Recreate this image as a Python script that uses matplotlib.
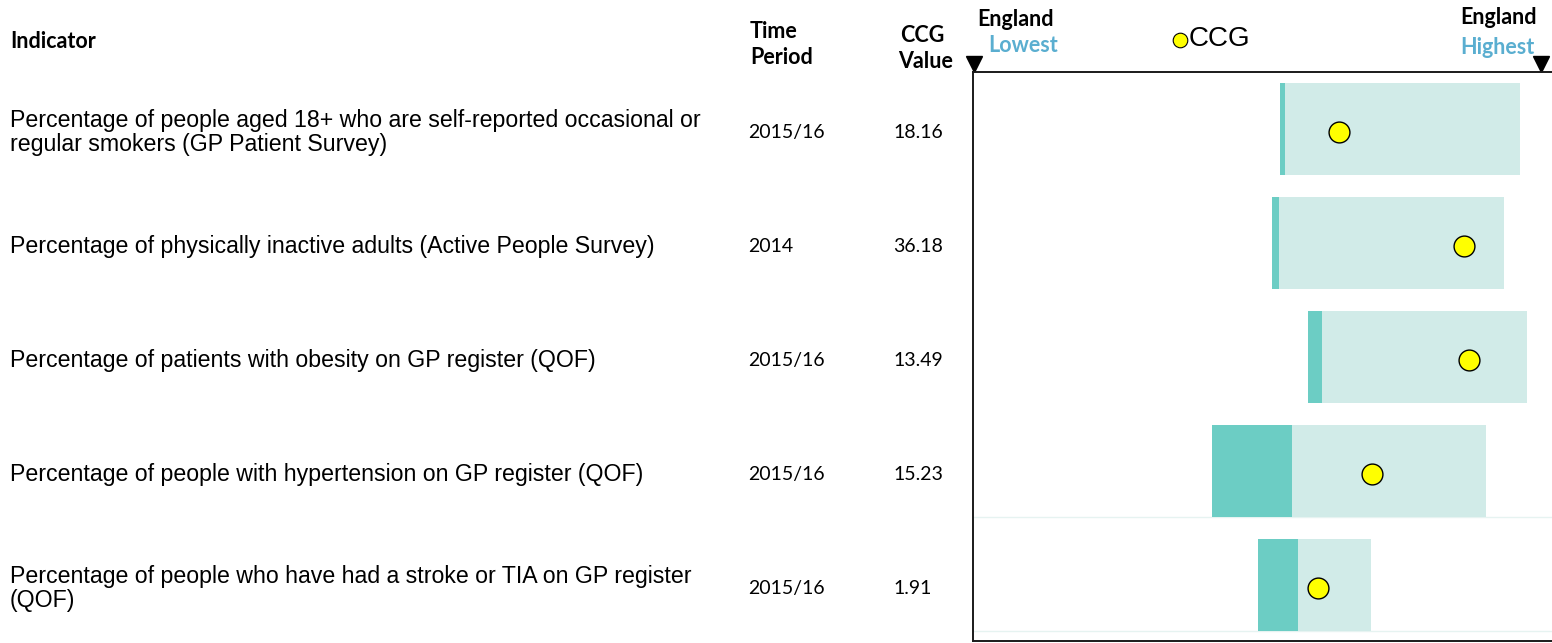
import matplotlib
matplotlib.use("Agg")
import matplotlib.pyplot as plt
import matplotlib.transforms as mtransforms

# spine chart data, positions scaled 0 (England lowest) .. 1 (England highest)
indicators = [
    "Percentage of people aged 18+ who are self-reported occasional or\nregular smokers (GP Patient Survey)",
    "Percentage of physically inactive adults (Active People Survey)",
    "Percentage of patients with obesity on GP register (QOF)",
    "Percentage of people with hypertension on GP register (QOF)",
    "Percentage of people who have had a stroke or TIA on GP register\n(QOF)",
]
periods = ["2015/16", "2014", "2015/16", "2015/16", "2015/16"]
ccg_values = ["18.16", "36.18", "13.49", "15.23", "1.91"]

band_low = [0.540, 0.526, 0.589, 0.420, 0.501]
band_mid = [0.548, 0.538, 0.614, 0.561, 0.571]
band_high = [0.963, 0.935, 0.975, 0.903, 0.700]
ccg_pos = [0.644, 0.864, 0.873, 0.702, 0.607]

dark_teal = "#6ccdc4"
light_teal = "#d1ebe8"
blue = "#5aaed0"

W, H = 1552, 643
fig = plt.figure(figsize=(W / 100, H / 100), dpi=100)

# axes box runs off the right edge of the figure
left_px, right_px, top_px, bottom_px = 973, 1556, 72, 641
ax = fig.add_axes([left_px / W, (H - bottom_px) / H,
                   (right_px - left_px) / W, (bottom_px - top_px) / H])
x0_px, x1_px = 974, 1541
span = x1_px - x0_px
ax.set_xlim((left_px - x0_px) / span, (right_px - x0_px) / span)
row_px = 114
ax.set_ylim((bottom_px - 129) / row_px, (top_px - 129) / row_px)
ax.set_xticks([])
ax.set_yticks([])
for s in ax.spines.values():
    s.set_linewidth(1.4)
    s.set_color("#1a1a1a")

rows = list(range(len(indicators)))
bar_h = 0.807
ax.barh(rows, [m - l for l, m in zip(band_low, band_mid)], left=band_low,
        height=bar_h, color=dark_teal, zorder=2)
ax.barh(rows, [h - m for m, h in zip(band_mid, band_high)], left=band_mid,
        height=bar_h, color=light_teal, zorder=2)

# faint row separators under the last two rows
for r in rows[3:]:
    ax.axhline(r + bar_h / 2, color="#e6f3f1", lw=1, zorder=1)

ax.plot(ccg_pos, [r + 0.03 for r in rows], "o", ms=15, mfc="#ffff00",
        mec="black", mew=1, zorder=3)

# England lowest / highest markers on the top edge
ax.plot([0, 1], [-0.57, -0.57], "v", ms=12, color="black", clip_on=False)

tr = mtransforms.blended_transform_factory(fig.transFigure, ax.transData)
body = dict(family="Liberation Sans", fontsize=16.7, color="black", va="center")
num = dict(family="Lato", fontsize=14, color="black", va="center")
for r in rows:
    y = r + 0.03
    ax.text(10 / W, y, indicators[r], transform=tr, linespacing=1.05, **body)
    ax.text(748 / W, y, periods[r], transform=tr, **num)
    ax.text(893 / W, y, ccg_values[r], transform=tr, **num)

head = dict(family="Lato", fontsize=15.5, fontweight="bold", va="center")
fig.text(10 / W, 1 - 42 / H, "Indicator", **head)
fig.text(750 / W, 1 - 32 / H, "Time", **head)
fig.text(750 / W, 1 - 58 / H, "Period", **head)
fig.text(900 / W, 1 - 35 / H, "CCG", **head)
fig.text(898 / W, 1 - 62 / H, "Value", **head)

fig.text(977 / W, 1 - 20 / H, "England", **head)
fig.text(988 / W, 1 - 45 / H, "Lowest", color=blue, **head)
fig.text(1537 / W, 1 - 18 / H, "England", ha="right", **head)
fig.text(1535 / W, 1 - 47 / H, "Highest", color=blue, ha="right", **head)

# legend for the CCG marker
fig.lines.append(plt.Line2D([1180 / W], [1 - 40 / H], marker="o", ms=10.5,
                            mfc="#ffff00", mec="black", mew=0.8,
                            transform=fig.transFigure))
fig.text(1189 / W, 1 - 39 / H, "CCG", family="Liberation Sans", fontsize=20,
         va="center")

fig.savefig("out.png", dpi=100)
